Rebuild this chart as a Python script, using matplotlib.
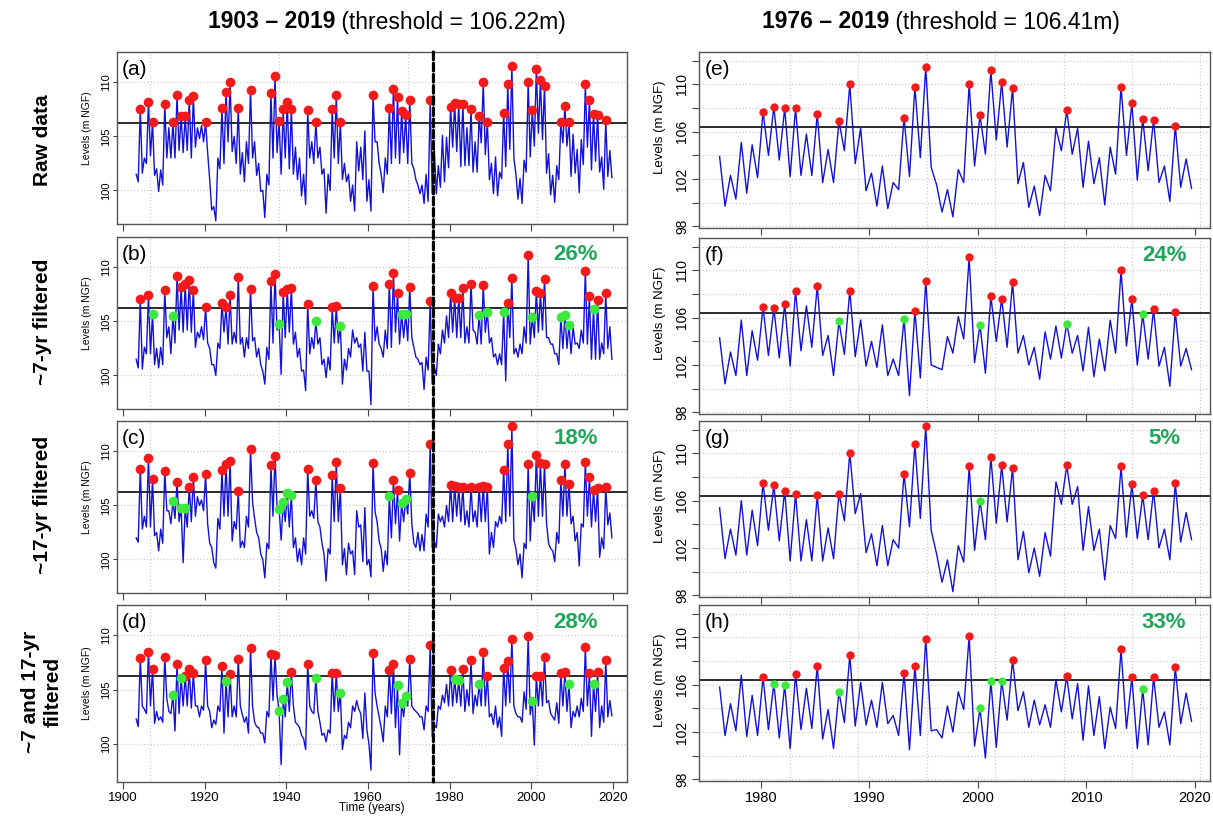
import numpy as np
import matplotlib.pyplot as plt
from matplotlib.patches import ConnectionPatch

plt.rcParams['font.family'] = ['Liberation Sans', 'DejaVu Sans']

# detection thresholds (m NGF)
thr_long = 106.22    # 1903-2019 record
thr_short = 106.41   # 1976-2019 record

# ---- raw levels: yearly high (winter) and low (summer) ----
# 1903-1975
raw_hi_early = [
    101.5, 107.5, 103.0, 108.2, 106.3, 102.0, 101.9, 108.0, 105.8, 106.3,
    108.8, 106.9, 106.9, 108.4, 108.7, 105.8, 106.0, 106.3, 101.0, 98.5,
    103.0, 107.6, 109.1, 110.0, 105.0, 107.6, 103.5, 104.5, 109.3, 104.5,
    102.5, 100.0, 101.5, 109.0, 110.6, 106.4, 107.5, 108.2, 107.5, 104.0,
    103.0, 101.5, 107.4, 104.5, 106.3, 104.0, 102.0, 101.5, 107.5, 108.8,
    106.3, 102.5, 101.5, 100.5, 104.5, 104.0, 105.5, 101.0, 108.8, 104.5,
    101.5, 103.0, 107.6, 109.4, 108.6, 107.3, 107.0, 108.4, 102.0, 100.5,
    100.5, 101.5, 108.4]
raw_lo_early = [
    100.8, 101.6, 102.5, 103.2, 101.4, 99.9, 100.5, 103.0, 103.0, 103.0,
    103.7, 103.5, 103.7, 103.0, 104.0, 104.8, 104.5, 103.5, 98.2, 97.2,
    102.0, 102.5, 104.5, 103.6, 102.5, 101.5, 100.8, 102.5, 103.0, 101.4,
    99.9, 97.5, 100.5, 103.0, 103.5, 101.5, 103.0, 102.0, 101.5, 101.0,
    99.5, 98.7, 103.0, 102.5, 103.0, 101.5, 97.9, 100.0, 103.0, 102.5,
    101.0, 100.8, 99.0, 98.1, 101.8, 101.0, 99.0, 98.1, 104.5, 102.5,
    99.8, 101.5, 102.5, 103.0, 102.5, 103.5, 102.5, 102.5, 101.0, 99.7,
    98.8, 99.0, 99.7]
# 1976-2019
raw_hi_late = [
    103.9, 102.3, 105.1, 104.9, 107.7, 108.1, 108.0, 108.0, 105.8, 107.5,
    104.5, 106.9, 110.0, 106.3, 102.5, 103.1, 101.7, 107.2, 109.8, 111.5,
    101.5, 101.1, 102.8, 110.0, 107.4, 111.2, 110.2, 109.7, 103.4, 101.4,
    102.3, 106.3, 107.8, 106.3, 105.2, 103.8, 104.7, 109.8, 108.4, 107.1,
    107.0, 103.1, 106.5, 103.7]
raw_lo_late = [
    99.7, 100.3, 100.8, 102.1, 104.0, 103.6, 102.2, 102.3, 102.3, 101.7,
    101.7, 104.4, 103.3, 101.0, 99.7, 99.5, 101.1, 102.2, 103.8, 103.0,
    99.2, 98.8, 101.7, 103.1, 104.1, 105.3, 104.7, 101.6, 99.6, 98.9,
    101.0, 104.4, 104.1, 101.3, 101.6, 99.8, 102.4, 104.0, 101.9, 102.7,
    101.7, 100.1, 101.3, 101.2]

# ---- filtered levels, long record 1903-2019 ----
l7_hi = [
    101.5, 107.1, 102.6, 107.4, 105.7, 102.5, 102.6, 107.9, 104.5, 105.5,
    109.2, 108.2, 108.5, 108.8, 107.9, 104.0, 104.5, 106.3, 102.5, 101.0,
    103.0, 106.7, 106.3, 107.4, 104.0, 109.1, 103.5, 103.5, 108.0, 103.5,
    102.5, 100.4, 102.6, 108.7, 109.4, 104.8, 107.7, 108.0, 108.1, 104.0,
    102.5, 100.5, 106.6, 103.5, 105.0, 103.5, 101.5, 101.7, 106.3, 106.4,
    104.6, 101.5, 102.5, 104.2, 103.5, 102.9, 104.0, 100.4, 108.3, 104.5,
    102.5, 104.2, 108.5, 109.5, 107.6, 105.7, 105.7, 108.2, 102.6, 101.5,
    101.2, 101.7, 106.9, 100.8, 102.9, 104.2, 105.5, 107.6, 107.2, 107.2,
    108.1, 104.5, 108.5, 104.0, 105.6, 108.4, 105.9, 103.5, 102.0, 102.0,
    105.9, 106.7, 109.0, 102.5, 102.9, 104.5, 111.1, 105.4, 107.8, 107.6,
    108.9, 103.5, 102.9, 102.0, 105.4, 105.6, 104.7, 104.5, 103.0, 104.2,
    109.7, 107.3, 106.15, 107.0, 103.0, 107.6, 104.5]
l7_lo = [
    100.7, 100.6, 102.0, 102.0, 101.0, 100.7, 101.0, 103.5, 102.0, 103.0,
    104.2, 104.0, 104.2, 104.0, 102.6, 103.5, 103.3, 103.0, 101.0, 100.0,
    102.5, 104.0, 102.9, 102.9, 103.0, 102.9, 101.7, 102.5, 103.2, 101.7,
    101.0, 99.2, 101.5, 103.0, 104.2, 100.1, 103.5, 104.0, 102.9, 101.7,
    100.4, 98.6, 102.0, 102.5, 102.9, 101.0, 99.8, 100.5, 103.0, 103.0,
    99.2, 100.5, 101.7, 103.0, 102.6, 100.4, 100.4, 97.3, 103.2, 102.9,
    101.7, 102.5, 102.6, 104.0, 102.9, 103.5, 103.2, 103.5, 101.7, 101.0,
    98.7, 100.5, 99.2, 100.0, 102.0, 103.0, 103.5, 104.0, 103.5, 103.5,
    103.0, 103.0, 104.2, 102.9, 102.9, 104.0, 103.0, 101.7, 101.0, 101.0,
    99.5, 103.5, 102.0, 101.7, 102.0, 103.0, 102.9, 103.5, 104.0, 104.2,
    103.5, 102.9, 102.0, 101.0, 102.5, 102.5, 102.0, 102.9, 102.5, 103.0,
    102.9, 101.5, 101.5, 101.5, 102.0, 102.5, 101.5]

l17_hi = [
    102.0, 108.4, 104.0, 109.4, 107.4, 102.5, 102.8, 108.2, 104.5, 105.4,
    107.2, 104.8, 104.8, 106.7, 107.6, 105.8, 105.5, 107.9, 101.5, 99.7,
    103.8, 108.3, 108.8, 109.1, 103.5, 106.3, 101.7, 104.0, 110.2, 103.8,
    102.0, 100.0, 101.5, 108.7, 109.6, 104.7, 105.3, 106.15, 106.0, 102.0,
    101.0, 102.0, 108.4, 104.5, 107.3, 103.0, 100.5, 101.0, 107.8, 109.0,
    106.6, 101.0, 101.5, 100.8, 104.5, 103.2, 104.8, 100.0, 108.9, 103.5,
    101.0, 100.8, 105.9, 107.3, 106.4, 105.2, 105.6, 108.0, 101.5, 102.5,
    102.3, 104.2, 110.7, 101.7, 104.2, 104.0, 105.0, 106.9, 106.8, 106.7,
    106.7, 104.5, 106.7, 104.5, 106.7, 106.8, 106.7, 102.5, 103.5, 104.0,
    108.3, 110.7, 112.3, 101.0, 100.5, 101.5, 108.8, 105.9, 109.7, 108.9,
    108.8, 101.5, 100.8, 102.5, 107.3, 108.8, 107.0, 104.0, 102.5, 103.3,
    109.0, 107.6, 106.4, 106.6, 102.0, 106.7, 104.3]
l17_lo = [
    101.6, 102.8, 103.0, 103.0, 102.2, 100.8, 101.5, 104.5, 103.3, 103.8,
    103.5, 99.7, 103.0, 103.5, 104.0, 105.0, 104.5, 103.3, 101.1, 99.2,
    102.8, 104.0, 104.0, 101.7, 102.8, 101.1, 101.1, 103.0, 105.3, 102.5,
    100.5, 98.3, 101.0, 104.0, 104.8, 101.8, 103.5, 103.0, 101.1, 99.8,
    99.5, 100.5, 104.0, 103.8, 103.5, 101.5, 98.0, 100.5, 103.5, 103.5,
    99.5, 98.6, 100.5, 98.6, 103.0, 99.8, 99.5, 98.4, 104.4, 101.7,
    98.9, 99.5, 102.0, 103.3, 101.7, 103.5, 104.2, 103.3, 101.1, 100.8,
    100.8, 103.0, 101.1, 101.1, 103.5, 103.0, 103.5, 103.5, 104.0, 103.5,
    103.2, 103.0, 103.5, 103.0, 103.5, 103.5, 100.5, 101.1, 103.0, 103.3,
    103.5, 104.0, 101.8, 99.5, 98.3, 101.0, 101.7, 103.5, 104.0, 104.0,
    103.3, 101.0, 99.8, 101.5, 104.0, 104.0, 103.3, 101.7, 99.4, 103.0,
    104.0, 103.0, 103.5, 100.2, 101.0, 103.2, 102.0]

l7_17_hi = [
    102.3, 107.9, 103.2, 108.5, 106.9, 103.0, 102.5, 108.0, 103.0, 104.5,
    107.4, 106.1, 106.3, 106.9, 106.5, 103.5, 103.5, 107.7, 103.0, 102.2,
    103.5, 107.2, 105.8, 106.4, 103.5, 107.8, 102.7, 102.5, 108.8, 102.0,
    101.5, 101.0, 103.0, 108.3, 108.2, 103.0, 104.1, 105.7, 106.6, 102.0,
    101.5, 100.5, 107.4, 103.0, 106.1, 102.0, 101.0, 101.3, 106.5, 106.5,
    104.7, 100.8, 102.0, 103.5, 104.0, 102.8, 104.7, 100.0, 108.4, 103.5,
    101.5, 103.5, 106.8, 107.4, 105.4, 103.8, 104.4, 107.8, 103.2, 102.8,
    102.5, 103.5, 109.1, 101.8, 103.5, 104.5, 105.5, 106.8, 106.0, 105.9,
    106.9, 105.0, 107.7, 104.5, 105.5, 108.5, 106.3, 102.8, 103.5, 102.5,
    107.0, 107.6, 109.7, 102.8, 102.5, 104.8, 109.9, 104.0, 106.3, 106.3,
    108.0, 104.0, 102.5, 103.8, 106.5, 106.6, 105.5, 103.0, 103.5, 104.2,
    108.9, 106.5, 105.5, 106.6, 103.5, 107.7, 104.0]
l7_17_lo = [
    101.6, 103.5, 102.8, 103.5, 101.9, 102.2, 102.0, 104.2, 102.8, 101.2,
    102.8, 103.5, 103.5, 103.3, 103.5, 102.5, 103.1, 103.5, 101.5, 101.8,
    103.0, 101.0, 102.5, 102.5, 102.5, 103.5, 102.0, 101.0, 103.5, 101.6,
    101.0, 100.1, 102.5, 104.0, 104.5, 98.1, 102.5, 103.0, 103.5, 101.8,
    100.8, 99.5, 103.5, 102.8, 103.0, 100.8, 100.2, 101.0, 103.0, 103.0,
    99.5, 100.5, 101.5, 103.0, 103.2, 100.5, 101.3, 97.6, 104.7, 102.5,
    100.2, 102.5, 102.8, 101.5, 99.0, 102.5, 103.5, 103.5, 103.0, 102.5,
    101.3, 103.0, 100.7, 101.5, 103.2, 103.8, 103.5, 103.5, 103.8, 103.5,
    103.0, 103.5, 102.8, 103.5, 103.5, 103.5, 102.5, 101.8, 101.5, 100.7,
    103.5, 103.8, 103.5, 102.5, 102.0, 103.2, 102.7, 99.9, 103.5, 103.5,
    103.8, 102.8, 102.2, 101.9, 103.5, 103.0, 101.5, 102.5, 102.5, 103.0,
    103.5, 100.7, 103.0, 101.5, 102.0, 102.5, 102.6]

# ---- filtered levels, short record 1976-2019 ----
s7_hi = [
    104.3, 103.1, 105.8, 104.9, 106.9, 106.8, 107.2, 108.3, 107.0, 108.7,
    104.5, 105.7, 108.3, 105.8, 104.0, 105.4, 102.5, 105.9, 106.6, 109.1,
    101.8, 104.4, 106.1, 111.1, 105.4, 107.8, 107.6, 109.0, 104.5, 103.5,
    104.8, 105.3, 105.5, 104.5, 105.2, 104.2, 105.8, 110.0, 107.6, 106.3,
    106.7, 103.5, 106.5, 103.4]
s7_lo = [
    100.4, 101.1, 101.1, 102.4, 102.8, 102.6, 101.9, 103.2, 103.5, 102.8,
    101.1, 102.9, 102.7, 101.9, 101.8, 101.1, 101.1, 99.4, 100.9, 102.0,
    101.6, 103.0, 104.2, 102.2, 101.3, 104.0, 103.5, 103.0, 102.0, 100.8,
    102.5, 102.6, 103.0, 101.5, 101.0, 101.5, 103.0, 103.6, 102.0, 102.5,
    101.9, 100.2, 101.9, 101.6]

s17_hi = [
    105.4, 103.6, 106.0, 105.2, 107.5, 107.3, 106.85, 106.6, 104.4, 106.45,
    103.7, 106.6, 110.05, 106.6, 103.2, 103.9, 102.7, 108.3, 110.8, 112.3,
    101.5, 101.0, 102.2, 108.9, 106.0, 109.7, 109.0, 108.8, 103.4, 102.0,
    103.3, 107.6, 109.0, 107.2, 105.5, 103.6, 103.9, 108.9, 107.4, 106.45,
    106.85, 103.6, 107.5, 105.0]
s17_lo = [
    101.1, 101.4, 101.4, 102.2, 103.5, 102.6, 100.9, 100.9, 100.9, 100.9,
    101.1, 104.3, 104.9, 101.6, 100.5, 100.5, 102.0, 103.8, 104.5, 103.5,
    99.1, 98.3, 100.8, 101.8, 102.7, 104.1, 104.2, 101.0, 99.9, 99.6,
    101.3, 105.7, 105.7, 101.8, 101.8, 99.3, 102.8, 102.9, 102.8, 102.7,
    102.0, 101.0, 102.5, 102.7]

s7_17_hi = [
    105.8, 104.4, 106.8, 105.1, 106.66, 106.1, 106.0, 106.9, 105.7, 107.6,
    103.9, 105.4, 108.5, 106.2, 104.7, 106.2, 103.4, 107.0, 107.6, 109.9,
    102.2, 104.2, 105.4, 110.1, 104.0, 106.3, 106.3, 108.1, 105.4, 104.7,
    104.3, 106.4, 106.7, 106.1, 105.9, 105.0, 104.1, 109.0, 106.66, 105.6,
    106.66, 103.7, 107.5, 105.3]
s7_17_lo = [
    101.7, 102.1, 101.6, 101.7, 102.2, 101.5, 100.6, 102.2, 102.3, 101.4,
    100.6, 102.8, 102.5, 102.6, 102.4, 102.7, 101.7, 100.5, 101.7, 102.1,
    101.5, 102.0, 103.9, 100.8, 99.8, 100.7, 103.0, 103.8, 102.4, 102.6,
    102.4, 103.7, 103.1, 101.3, 101.7, 100.6, 102.3, 102.3, 100.6, 100.9,
    102.4, 100.9, 102.7, 102.9]

row_names = ['Raw data', '~7-yr filtered', '~17-yr filtered', '~7 and 17-yr\nfiltered']
letters_long = ['(a)', '(b)', '(c)', '(d)']
letters_short = ['(e)', '(f)', '(g)', '(h)']
pct_long = [None, '26%', '18%', '28%']
pct_short = [None, '24%', '5%', '33%']

long_hi = [raw_hi_early + raw_hi_late, l7_hi, l17_hi, l7_17_hi]
long_lo = [raw_lo_early + raw_lo_late, l7_lo, l17_lo, l7_17_lo]
short_hi = [raw_hi_late, s7_hi, s17_hi, s7_17_hi]
short_lo = [raw_lo_late, s7_lo, s17_lo, s7_17_lo]

# sampling within a year: winter high, summer low
PEAK_AT, TROUGH_AT = 0.2, 0.7

BLUE = '#1212d4'
RED = '#f51a1a'
GREEN = '#3de83d'
PCT_GREEN = '#1fa65a'
GRID = '#cfcfcf'

W, H = 1213, 818
fig = plt.figure(figsize=(W / 100, H / 100), dpi=100)


def add_panel(left, top, width, height):
    return fig.add_axes([left / W, 1 - (top + height) / H, width / W, height / H])


def draw_series(ax, start, hi, lo, raw_hi, thr, msize):
    hi = np.asarray(hi, float)
    lo = np.asarray(lo, float)
    yrs = start + np.arange(len(hi))
    t = np.column_stack([yrs + PEAK_AT, yrs + TROUGH_AT]).ravel()
    v = np.column_stack([hi, lo]).ravel()
    ax.plot(t, v, color=BLUE, lw=1.0, zorder=3, solid_joinstyle='round')
    ax.axhline(thr, color='#2a2a2a', lw=1.4, zorder=2)
    # events = raw peaks over threshold; green where filtering pulls them under
    events = np.asarray(raw_hi, float) > thr
    kept = events & (hi > thr)
    lost = events & (hi <= thr)
    ax.plot(yrs[kept] + PEAK_AT, hi[kept], 'o', color=RED, ms=msize, mec='none', zorder=4)
    ax.plot(yrs[lost] + PEAK_AT, hi[lost], 'o', color=GREEN, ms=msize, mec='none', zorder=4)


def frame(ax, xlim, ylim, xticks, yticks, ylabels, xgrid, ygrid, fs):
    ax.set_xlim(*xlim)
    ax.set_ylim(*ylim)
    for g in xgrid:
        ax.axvline(g, color=GRID, lw=0.9, ls=':', zorder=0)
    for g in ygrid:
        ax.axhline(g, color=GRID, lw=0.9, ls=':', zorder=0)
    ax.set_xticks(xticks)
    ax.set_yticks(yticks)
    ax.set_yticklabels(ylabels, rotation=90, va='center')
    ax.tick_params(direction='out', length=5, width=0.8, color='#444444',
                   labelsize=fs, pad=2)
    for s in ax.spines.values():
        s.set_color('#555555')
        s.set_linewidth(1.0)


# ---- left column: 1903-2019 ----
left_rows = [(52, 172), (237, 172), (421, 172), (605, 177)]
axes_long = []
for i, (top, h) in enumerate(left_rows):
    ax = add_panel(117, top, 510, h)
    ylim = (96.5, 112.8) if i == 3 else (96.9, 112.8)
    frame(ax, (1898.5, 2023.4), ylim, range(1900, 2021, 20), [100, 105, 110],
          ['100', '105', '110'], [1906.5, 1938.2, 1969.8, 2001.4], [100, 105, 110], 8)
    ax.tick_params(axis='y', length=3, pad=1)
    draw_series(ax, 1903, long_hi[i], long_lo[i], long_hi[0], thr_long, 7)
    ax.set_ylabel('Levels (m NGF)', fontsize=7.5)
    ax.yaxis.set_label_coords(-0.05, 0.56)
    ax.text(0.01, 0.9, letters_long[i], transform=ax.transAxes, fontsize=15,
            ha='left', va='center')
    if pct_long[i]:
        ax.text(0.9, 0.9, pct_long[i], transform=ax.transAxes, fontsize=16,
                fontweight='bold', color=PCT_GREEN, ha='center', va='center')
    if i < 3:
        ax.tick_params(labelbottom=False)
    else:
        ax.tick_params(axis='x', labelsize=9.5)
        ax.set_xlabel('Time (years)', fontsize=8.5, labelpad=-1)
    axes_long.append(ax)

# ---- right column: 1976-2019 ----
right_rows = [(52, 176), (238, 176), (421, 176), (605, 176)]
for i, (top, h) in enumerate(right_rows):
    ax = add_panel(699, top, 511, h)
    frame(ax, (1974.3, 2021.4), (97.85, 112.75), range(1980, 2021, 10),
          list(range(98, 113, 2)), ['98', '', '102', '', '106', '', '110', ''],
          [1982.7, 1989.0, 1995.3, 2001.6, 2007.9, 2014.2, 2020.5],
          list(range(98, 113, 2)), 10)
    draw_series(ax, 1976, short_hi[i], short_lo[i], short_hi[0], thr_short, 6)
    ax.set_ylabel('Levels (m NGF)', fontsize=9.5)
    ax.yaxis.set_label_coords(-0.065, 0.57)
    ax.text(0.012, 0.9, letters_short[i], transform=ax.transAxes, fontsize=15,
            ha='left', va='center')
    if pct_short[i]:
        ax.text(0.91, 0.9, pct_short[i], transform=ax.transAxes, fontsize=16,
                fontweight='bold', color=PCT_GREEN, ha='center', va='center')
    if i < 3:
        ax.tick_params(labelbottom=False)
    else:
        ax.tick_params(axis='x', labelsize=10.5)

# start of the short record, across the whole left column
top_ax, bot_ax = axes_long[0], axes_long[-1]
split = ConnectionPatch(xyA=(1976, top_ax.get_ylim()[1]), coordsA='data', axesA=top_ax,
                        xyB=(1976, bot_ax.get_ylim()[0]), coordsB='data', axesB=bot_ax,
                        color='black', lw=2.3, linestyle=(0, (2.4, 1.1)), zorder=6)
fig.add_artist(split)

# column headings: bold period followed by the threshold in regular weight
for x0, span, thr in [(208, '1903 – 2019', '106.22'), (762, '1976 – 2019', '106.41')]:
    head = fig.text(x0 / W, 1 - 22 / H, span, fontsize=16.5, fontweight='bold',
                    ha='left', va='center')
    ann = plt.annotate(f' (threshold = {thr}m)', xy=(1, 0), xycoords=head,
                       fontsize=16.5, ha='left', va='bottom',
                       annotation_clip=False)
    ann.remove()
    fig.add_artist(ann)

# row headings
row_y = [140, 322, 505, 692]
for name, yc in zip(row_names, row_y):
    fig.text(42 / W, 1 - yc / H, name, rotation=90, fontsize=15, fontweight='bold',
             ha='center', va='center', multialignment='center', linespacing=1.25)

fig.savefig('out.png', dpi=100)
